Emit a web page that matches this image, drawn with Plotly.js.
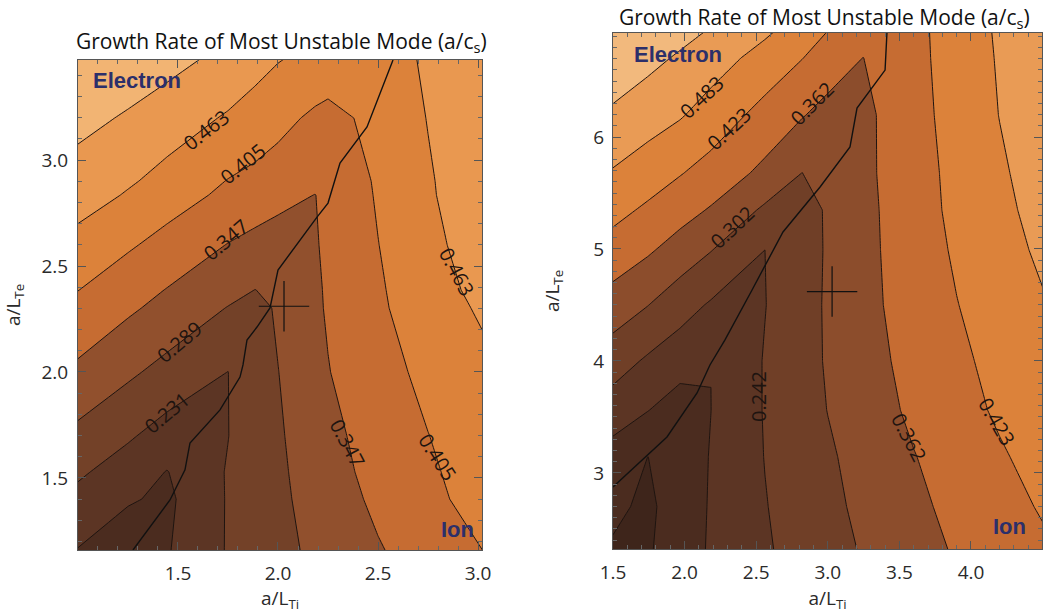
<!DOCTYPE html>
<html><head><meta charset="utf-8">
<script src="https://cdn.plot.ly/plotly-3.0.1.min.js"></script>
<style>html,body{margin:0;padding:0;background:#fff}#chart{width:1058px;height:613px}</style>
</head><body><div id="chart"></div>
<script>
// ---------- Left panel: growth rate grid (a/LTi across, a/LTe up) ----------
const leftTi = [1.0, 1.25, 1.445, 1.75, 1.885, 2.0, 2.185, 2.25, 2.5, 2.75, 3.05];
const leftTe = [1.1, 1.4, 1.528, 1.698, 2.0, 2.302, 2.387, 2.599, 2.835, 2.901, 3.198, 3.5];
const leftGrowth = [
  [0.160, 0.126, 0.170, 0.235, 0.255, 0.272, 0.298, 0.306, 0.339, 0.369, 0.403],
  [0.215, 0.179, 0.162, 0.235, 0.258, 0.277, 0.309, 0.320, 0.358, 0.388, 0.435],
  [0.240, 0.203, 0.171, 0.235, 0.259, 0.279, 0.314, 0.326, 0.365, 0.396, 0.437],
  [0.274, 0.238, 0.207, 0.230, 0.261, 0.282, 0.320, 0.333, 0.370, 0.404, 0.440],
  [0.336, 0.299, 0.271, 0.2305, 0.264, 0.288, 0.330, 0.345, 0.384, 0.419, 0.452],
  [0.389, 0.356, 0.330, 0.287, 0.270, 0.296, 0.338, 0.352, 0.397, 0.433, 0.475],
  [0.406, 0.371, 0.345, 0.306, 0.2885, 0.298, 0.339, 0.353, 0.399, 0.436, 0.485],
  [0.442, 0.412, 0.386, 0.345, 0.330, 0.317, 0.343, 0.356, 0.404, 0.447, 0.497],
  [0.491, 0.458, 0.431, 0.393, 0.379, 0.367, 0.346, 0.360, 0.410, 0.455, 0.512],
  [0.494, 0.470, 0.445, 0.403, 0.391, 0.380, 0.363, 0.361, 0.412, 0.457, 0.508],
  [0.540, 0.514, 0.492, 0.457, 0.438, 0.421, 0.395, 0.390, 0.419, 0.465, 0.512],
  [0.575, 0.564, 0.544, 0.509, 0.488, 0.470, 0.450, 0.440, 0.425, 0.475, 0.520]
];
const leftLevels = [0.115, 0.173, 0.231, 0.289, 0.347, 0.405, 0.463, 0.521, 0.579];
// electron / ion boundary (left)
const leftBoundTi = [2.575, 2.445, 2.31, 2.25, 2.195, 2.075, 2.0, 1.96, 1.895, 1.845, 1.825, 1.81, 1.71, 1.56, 1.535, 1.46, 1.275];
const leftBoundTe = [3.472, 3.156, 2.986, 2.797, 2.731, 2.575, 2.481, 2.302, 2.212, 2.151, 2.033, 1.976, 1.821, 1.665, 1.538, 1.396, 1.16];
const leftPointTi = [2.03];
const leftPointTe = [2.31];

// ---------- Right panel ----------
const rightTi = [1.5, 1.744, 1.968, 2.184, 2.561, 2.82, 3.0, 3.246, 3.6, 3.9, 4.2, 4.5];
const rightTe = [2.2, 2.7, 3.143, 3.563, 4.0, 4.5, 4.991, 5.348, 5.679, 6.196, 6.705, 7.0];
const rightGrowth = [
  [0.110, 0.116, 0.153, 0.188, 0.234, 0.261, 0.279, 0.304, 0.337, 0.365, 0.386, 0.408],
  [0.132, 0.110, 0.149, 0.186, 0.239, 0.268, 0.288, 0.314, 0.350, 0.377, 0.401, 0.428],
  [0.156, 0.1205, 0.151, 0.184, 0.243, 0.273, 0.294, 0.322, 0.360, 0.388, 0.416, 0.443],
  [0.213, 0.183, 0.151, 0.181, 0.245, 0.278, 0.303, 0.332, 0.373, 0.401, 0.431, 0.463],
  [0.269, 0.233, 0.207, 0.1815, 0.245, 0.282, 0.307, 0.339, 0.381, 0.411, 0.439, 0.464],
  [0.335, 0.303, 0.266, 0.235, 0.240, 0.282, 0.308, 0.345, 0.388, 0.421, 0.450, 0.478],
  [0.399, 0.370, 0.337, 0.304, 0.2415, 0.280, 0.307, 0.346, 0.393, 0.430, 0.461, 0.493],
  [0.440, 0.413, 0.385, 0.357, 0.292, 0.279, 0.308, 0.346, 0.397, 0.436, 0.469, 0.502],
  [0.478, 0.451, 0.426, 0.400, 0.348, 0.3015, 0.319, 0.349, 0.398, 0.439, 0.475, 0.508],
  [0.533, 0.510, 0.488, 0.458, 0.402, 0.366, 0.341, 0.348, 0.402, 0.445, 0.484, 0.518],
  [0.584, 0.559, 0.536, 0.510, 0.461, 0.424, 0.397, 0.3615, 0.406, 0.448, 0.488, 0.524],
  [0.600, 0.590, 0.567, 0.545, 0.500, 0.462, 0.428, 0.390, 0.407, 0.450, 0.491, 0.528]
];
const rightLevels = [0.121, 0.181, 0.242, 0.302, 0.362, 0.423, 0.483, 0.543, 0.604];
const rightBoundTi = [3.413, 3.40, 3.204, 3.155, 2.946, 2.687, 2.471, 2.282, 2.177, 2.087, 1.877, 1.5];
const rightBoundTe = [6.929, 6.598, 6.259, 5.911, 5.554, 5.152, 4.634, 4.188, 3.964, 3.714, 3.321, 2.875];
const rightPointTi = [3.03];
const rightPointTe = [4.62];

const leftTicks = [1.5, 2.0, 2.5, 3.0];
const rightXTicks = [1.5, 2.0, 2.5, 3.0, 3.5, 4.0];
const rightYTicks = [3, 4, 5, 6];
const titleText = 'Growth Rate of Most Unstable Mode (a/c<sub>s</sub>)';

// copper-like band colours
const leftScale = [
  [0, 'rgb(62,37,27)'], [1/9, 'rgb(75,44,31)'], [2/9, 'rgb(92,53,36)'], [3/9, 'rgb(115,65,40)'],
  [4/9, 'rgb(145,80,45)'], [5/9, 'rgb(198,108,50)'], [6/9, 'rgb(220,130,58)'], [7/9, 'rgb(233,152,80)'],
  [8/9, 'rgb(242,180,115)'], [1, 'rgb(248,205,150)']
];
const rightScale = [
  [0, 'rgb(62,37,27)'], [1/9, 'rgb(75,44,31)'], [2/9, 'rgb(92,53,36)'], [3/9, 'rgb(112,63,39)'],
  [4/9, 'rgb(140,77,44)'], [5/9, 'rgb(198,108,50)'], [6/9, 'rgb(220,130,58)'], [7/9, 'rgb(233,155,85)'],
  [8/9, 'rgb(242,185,125)'], [1, 'rgb(248,208,155)']
];

const traces = [
  {type: 'contour', x: leftTi, y: leftTe, z: leftGrowth, xaxis: 'x', yaxis: 'y',
   autocontour: false, showscale: false, hoverinfo: 'skip', colorscale: leftScale,
   contours: {start: leftLevels[0], end: 0.58, size: 0.058, coloring: 'fill', showlabels: false},
   line: {color: '#1e1410', width: 1, smoothing: 0}},
  {type: 'scatter', mode: 'lines', x: leftBoundTi, y: leftBoundTe, xaxis: 'x', yaxis: 'y',
   line: {color: '#111', width: 1.4}, hoverinfo: 'skip'},
  {type: 'scatter', mode: 'markers', x: leftPointTi, y: leftPointTe, xaxis: 'x', yaxis: 'y',
   marker: {symbol: 'cross-thin', size: 36, line: {color: '#111', width: 1.2}}, hoverinfo: 'skip'},
  {type: 'contour', x: rightTi, y: rightTe, z: rightGrowth, xaxis: 'x2', yaxis: 'y2',
   autocontour: false, showscale: false, hoverinfo: 'skip', colorscale: rightScale,
   contours: {start: 0.1209, end: 0.61, size: 0.06033, coloring: 'fill', showlabels: false},
   line: {color: '#1e1410', width: 1, smoothing: 0}},
  {type: 'scatter', mode: 'lines', x: rightBoundTi, y: rightBoundTe, xaxis: 'x2', yaxis: 'y2',
   line: {color: '#111', width: 1.4}, hoverinfo: 'skip'},
  {type: 'scatter', mode: 'markers', x: rightPointTi, y: rightPointTe, xaxis: 'x2', yaxis: 'y2',
   marker: {symbol: 'cross-thin', size: 36, line: {color: '#111', width: 1.2}}, hoverinfo: 'skip'}
];

const tickFont = {family: 'Open Sans, sans-serif', size: 19, color: '#2a2a2a'};
function axisBase(extra) {
  return Object.assign({
    showgrid: false, zeroline: false, showline: true, linecolor: '#555', linewidth: 1,
    mirror: 'ticks', ticks: 'inside', ticklen: 8, tickcolor: '#555', tickwidth: 1,
    tickfont: tickFont
  }, extra);
}

// contour value labels placed along the lines (as in the original figure)
const lblFont = {family: 'Open Sans, sans-serif', size: 20, color: '#1e1410'};
function lbl(ax, x, y, value, angle) {
  return {xref: ax[0], yref: ax[1], x: x, y: y, text: value.toFixed(3), textangle: angle,
          showarrow: false, xanchor: 'center', yanchor: 'middle', font: lblFont};
}
const L = ['x', 'y'], R = ['x2', 'y2'];
const labelAnnotations = [
  lbl(L, 1.645, 3.142, leftLevels[6], -38),
  lbl(L, 1.825, 2.986, leftLevels[5], -39),
  lbl(L, 1.74, 2.627, leftLevels[4], -40),
  lbl(L, 1.51, 2.142, leftLevels[3], -40),
  lbl(L, 1.445, 1.811, leftLevels[2], -40),
  lbl(L, 2.895, 2.476, leftLevels[6], 62),
  lbl(L, 2.345, 1.665, leftLevels[4], 62),
  lbl(L, 2.795, 1.599, leftLevels[5], 57),
  lbl(R, 2.115, 6.357, rightLevels[6], -43),
  lbl(R, 2.31, 6.08, rightLevels[5], -43),
  lbl(R, 2.89, 6.295, rightLevels[4], -45),
  lbl(R, 2.331, 5.19, rightLevels[3], -43),
  lbl(R, 2.52, 3.679, rightLevels[2], -90),
  lbl(R, 3.567, 3.313, rightLevels[4], 62),
  lbl(R, 4.182, 3.464, rightLevels[5], 60)
];

const modeFont = {family: 'Liberation Sans, Arial, sans-serif', size: 22, color: '#2c2f6a'};
const layout = {
  width: 1058, height: 613, margin: {l: 0, r: 0, t: 0, b: 0},
  paper_bgcolor: '#fff', plot_bgcolor: '#fff', showlegend: false,
  font: {family: 'Open Sans, sans-serif', color: '#222'},
  xaxis: axisBase({domain: [0.0737, 0.4556], range: [1.0, 3.02], anchor: 'y',
    tickvals: leftTicks, tickformat: '.1f', ticklabelstandoff: 6,
    minor: {tick0: 1.0, dtick: 0.1, ticks: 'inside', ticklen: 4, tickcolor: '#666'},
    title: {text: 'a/L<sub>Ti</sub>', font: {size: 19, color: '#2a2a2a'}, standoff: 0}}),
  yaxis: axisBase({domain: [0.1028, 0.9021], range: [1.16, 3.472], anchor: 'x',
    tickvals: leftTicks, tickformat: '.1f', ticklabelstandoff: 5,
    minor: {tick0: 1.0, dtick: 0.1, ticks: 'inside', ticklen: 4, tickcolor: '#666'},
    title: {text: 'a/L<sub>Te</sub>', font: {size: 19, color: '#2a2a2a'}, standoff: 18}}),
  xaxis2: axisBase({domain: [0.5794, 0.9849], range: [1.5, 4.496], anchor: 'y2',
    tickvals: rightXTicks, tickformat: '.1f', ticklabelstandoff: 6,
    minor: {tick0: 1.5, dtick: 0.1, ticks: 'inside', ticklen: 4, tickcolor: '#666'},
    title: {text: 'a/L<sub>Ti</sub>', font: {size: 19, color: '#2a2a2a'}, standoff: 0}}),
  yaxis2: axisBase({domain: [0.1044, 0.9462], range: [2.321, 6.929], anchor: 'x2',
    tickvals: rightYTicks, tickformat: 'd', ticklabelstandoff: 4,
    minor: {tick0: 2.0, dtick: 0.1, ticks: 'inside', ticklen: 4, tickcolor: '#666'},
    title: {text: 'a/L<sub>Te</sub>', font: {size: 19, color: '#2a2a2a'}, standoff: 28}}),
  annotations: [
    {xref: 'paper', yref: 'paper', x: 0.2665, y: 0.9315, text: titleText, showarrow: false,
     xanchor: 'center', yanchor: 'middle', font: {family: 'Open Sans, sans-serif', size: 21, color: '#111'}},
    {xref: 'paper', yref: 'paper', x: 0.7795, y: 0.9985, text: titleText, showarrow: false,
     xanchor: 'center', yanchor: 'top', font: {family: 'Open Sans, sans-serif', size: 21, color: '#111'}},
    {xref: 'paper', yref: 'paper', x: 0.1295, y: 0.8679, text: '<b>Electron</b>', showarrow: false,
     xanchor: 'center', yanchor: 'middle', font: modeFont},
    {xref: 'paper', yref: 'paper', x: 0.6408, y: 0.9119, text: '<b>Electron</b>', showarrow: false,
     xanchor: 'center', yanchor: 'middle', font: modeFont},
    {xref: 'paper', yref: 'paper', x: 0.432, y: 0.1354, text: '<b>Ion</b>', showarrow: false,
     xanchor: 'center', yanchor: 'middle', font: modeFont},
    {xref: 'paper', yref: 'paper', x: 0.9546, y: 0.1403, text: '<b>Ion</b>', showarrow: false,
     xanchor: 'center', yanchor: 'middle', font: modeFont}
  ].concat(labelAnnotations)
};
Plotly.newPlot('chart', traces, layout, {displayModeBar: false, staticPlot: true});
</script></body></html>
